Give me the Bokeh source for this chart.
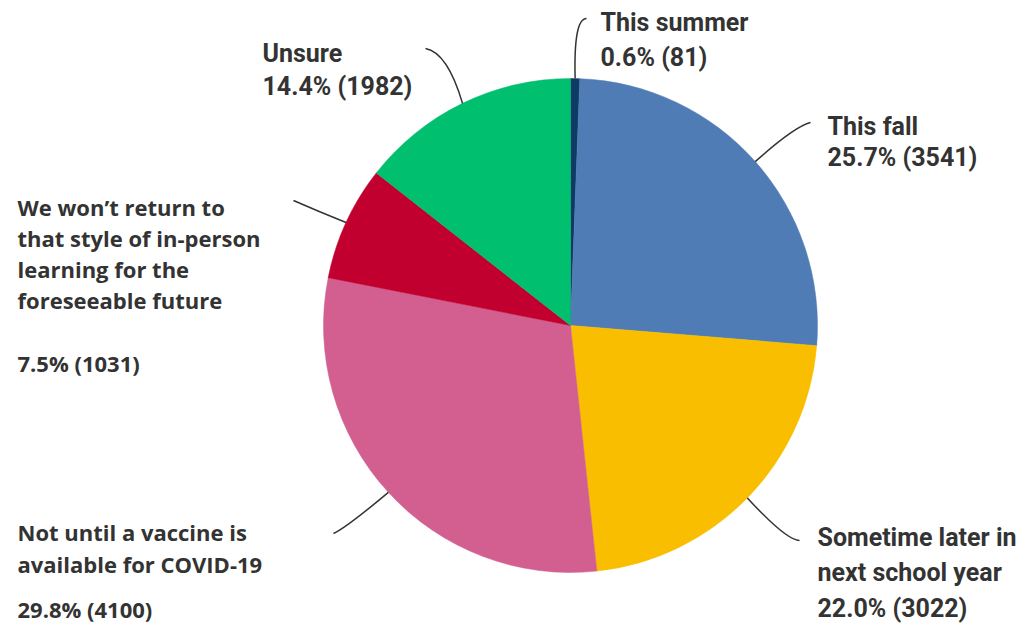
import math
from bokeh.plotting import figure
from bokeh.models import Range1d, ColumnDataSource
from bokeh.core.properties import value
from bokeh.embed import file_html
from bokeh.resources import INLINE

# ---- data ----
categories = ["This summer", "This fall", "Sometime later in next school year",
              "Not until a vaccine is available for COVID-19",
              "We won't return to that style of in-person learning for the foreseeable future",
              "Unsure"]
percents = [0.6, 25.7, 22.0, 29.8, 7.5, 14.4]
counts = [81, 3541, 3022, 4100, 1031, 1982]
colors = ["#0e3a66", "#507cb6", "#f9be00", "#d25f90", "#c1002f", "#00bf6f"]

# label text lines (name lines; value line added from data)
label_lines = [
    ["This summer"],
    ["This fall"],
    ["Sometime later in", "next school year"],
    ["Not until a vaccine is", "available for COVID-19"],
    ["We won\u2019t return to", "that style of in-person", "learning for the", "foreseeable future"],
    ["Unsure"],
]

# ---- layout (picture pixel coordinates, y downward) ----
W, H = 1018, 626
CX, CY, R = 570, 325, 247
TEXT_SHIFT = 9  # rendered baseline sits lower than requested

# label style: (x, list of baselines for lines incl value, font, size)
label_layout = [
    (600, [31, 66], "Roboto", "25px"),
    (827, [135, 166], "Roboto", "25px"),
    (817, [546, 581, 617], "Roboto", "25px"),
    (17, [540, 572, 617], "Open Sans", "22px"),
    (17, [215, 246, 277, 308, 371], "Open Sans", "22px"),
    (262, [62, 95], "Roboto", "25px"),
]
# leader line end point and control point
leader_layout = [
    ((586, 18), (573, 18)),
    ((810, 122), (794, 126)),
    ((799, 540), (786, 540)),
    ((333, 533), (346, 527)),
    ((293, 200), (318, 211)),
    ((425, 48), (447, 52)),
]

def Y(py):
    return H - py

p = figure(width=W, height=H, output_backend="svg", toolbar_location=None,
           x_range=Range1d(0, W), y_range=Range1d(0, H),
           min_border=0)
p.axis.visible = False
p.grid.visible = False
p.outline_line_color = None
p.background_fill_color = "white"
p.border_fill_color = "white"

total = sum(percents)
starts, ends, mids = [], [], []
cum = 0.0
for v in percents:
    a0 = math.pi / 2 - 2 * math.pi * cum / total
    cum += v
    a1 = math.pi / 2 - 2 * math.pi * cum / total
    starts.append(a0)
    ends.append(a1)
    mids.append((a0 + a1) / 2)

src = ColumnDataSource(dict(start=starts, end=ends, color=colors,
                            x=[CX] * len(percents), y=[Y(CY)] * len(percents)))
p.wedge(x="x", y="y", radius=R, start_angle="start", end_angle="end",
        direction="clock", fill_color="color", line_color="color", line_width=0.5,
        source=src)

# leader lines
for m, ((ex, ey), (cx, cy)) in zip(mids, leader_layout):
    sx = CX + R * math.cos(m)
    sy = Y(CY) + R * math.sin(m)
    p.quadratic(x0=[sx], y0=[sy], x1=[ex], y1=[Y(ey)], cx=[cx], cy=[Y(cy)],
                line_color="#333333", line_width=1.5)

# labels
for lines, pct, cnt, (lx, bls, font, size) in zip(label_lines, percents, counts, label_layout):
    texts = lines + ["%.1f%% (%d)" % (pct, cnt)]
    p.text(x=[lx] * len(texts), y=[Y(b - TEXT_SHIFT) for b in bls], text=texts,
           text_font=value(font), text_font_size=size, text_font_style="bold",
           text_color="#333333", text_align="left", text_baseline="alphabetic")

open("out.html", "w").write(file_html(p, INLINE))
